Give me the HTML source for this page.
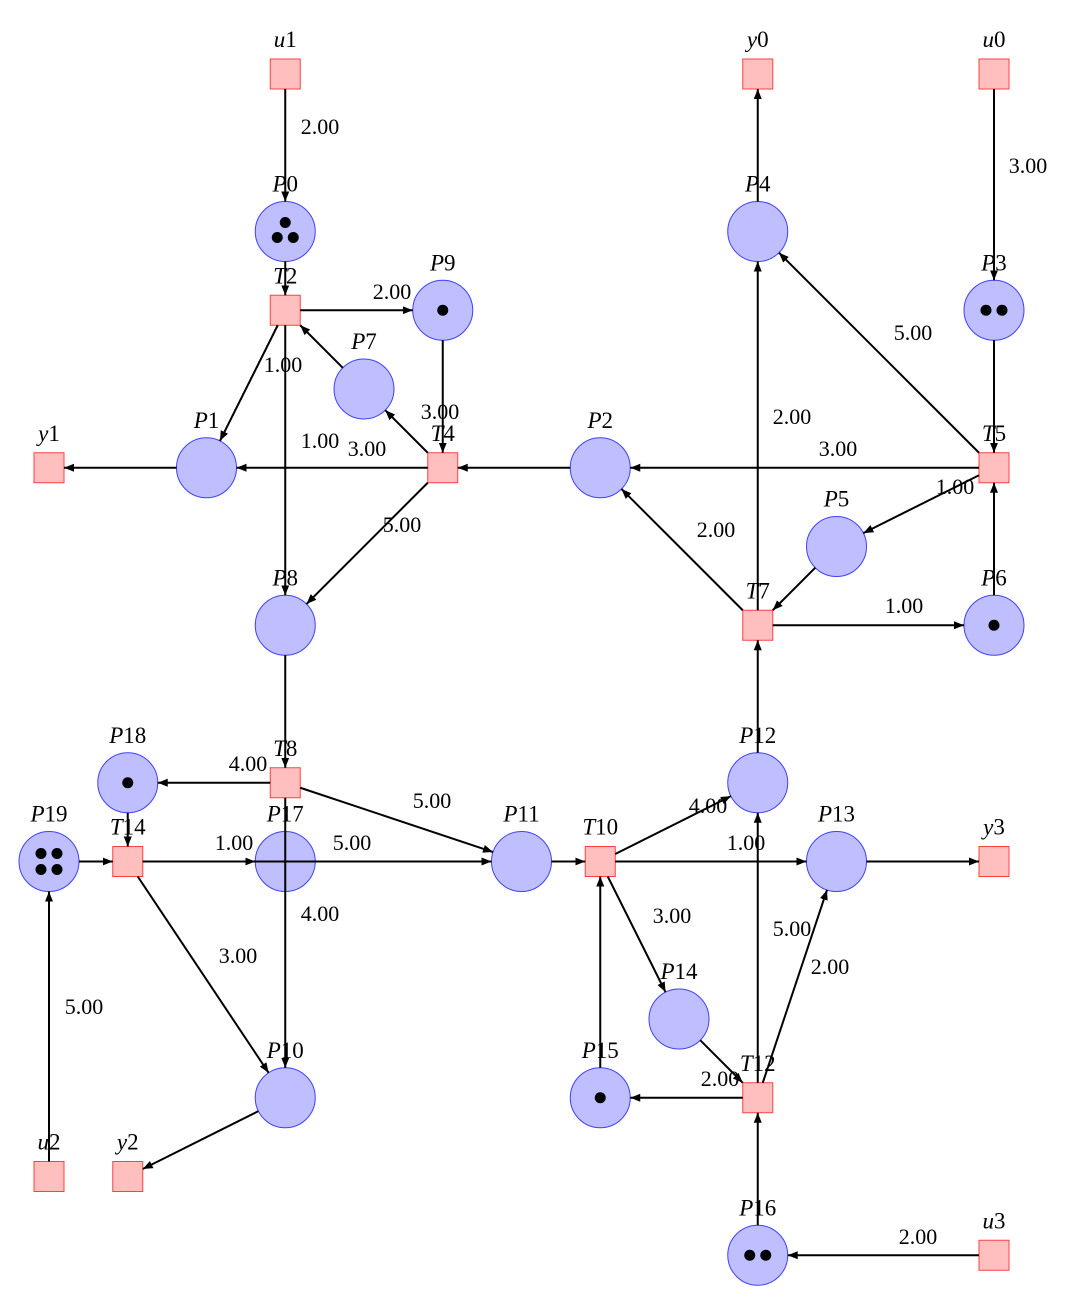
<!DOCTYPE html>
<html><head><meta charset="utf-8"><style>
html,body{margin:0;padding:0;background:#fff;}
svg{display:block;font-family:"Liberation Serif",serif;}
</style></head><body>
<svg id="net" width="1079" height="1302" viewBox="0 0 1079 1302" xmlns="http://www.w3.org/2000/svg">
<defs><marker id="ah" viewBox="0 0 10 10" refX="10" refY="5" markerWidth="10" markerHeight="10" markerUnits="userSpaceOnUse" orient="auto"><path d="M0,1 L10,5 L0,9 z" fill="#000"/></marker></defs>
<g id="nodes"></g><g id="edges"></g><g id="labels"></g>
</svg>
<script>
const nodeNames=["u1","P0","T2","P9","P7","P1","y1","T4","P2","P8","y0","u0","P4","P3","T5","P5","T7","P6","P18","T8","P19","T14","P17","P11","T10","P12","P13","y3","P14","P15","T12","P10","u2","y2","P16","u3"];
const nodeCol=[3,3,3,5,4,2,0,5,7,3,9,12,9,12,12,10,9,12,1,3,0,1,3,6,7,9,10,12,8,7,9,3,0,1,9,12];
const nodeRow=[0,2,3,3,4,5,5,5,5,7,0,0,2,3,5,6,7,7,9,9,10,10,10,10,10,9,10,10,12,13,13,13,14,14,15,15];
const tokens={P0:3,P9:1,P3:2,P6:1,P18:1,P19:4,P15:1,P16:2};
const edgeFrom=["u1","P0","T2","P9","T4","P7","T2","T2","T4","P1","T4","P2","T5","T5","u0","P3","T5","P6","P5","T7","T7","T7","P4","P12","P8","T8","T8","T8","P18","P19","T14","T14","T14","u2","P10","P11","T10","T10","T10","P13","P14","T12","T12","T12","P15","P16","u3"];
const edgeTo=["P0","T2","P9","T4","P7","T2","P1","P8","P1","y1","P8","T4","P2","P4","P3","T5","P5","T5","T7","P2","P4","P6","y0","T7","T8","P18","P11","P10","T14","T14","P17","P11","P10","P19","y2","T10","P12","P13","P14","y3","T12","P15","P12","P13","T10","T12","P16"];
const edgeW=["2.00","","2.00","3.00","","","1.00","1.00","3.00","","5.00","","3.00","5.00","3.00","","1.00","","","2.00","2.00","1.00","","","","4.00","5.00","4.00","","","1.00","5.00","3.00","5.00","","","4.00","1.00","3.00","","","2.00","5.00","2.00","","","2.00"];
const labelPos={0:[320,127],2:[392,292],3:[440,412],6:[283,365],7:[320,441],8:[367,449],10:[402,525],12:[838,449],13:[913,333],14:[1028,166],16:[955,487],19:[716,530],20:[792,417],21:[904,606],25:[248,764],26:[432,801],27:[320,914],30:[234,843],31:[352,843],32:[238,956],33:[84,1007],36:[708,806],37:[746,843],38:[672,916],41:[720,1079],42:[792,929],43:[830,967],46:[918,1237]};
const X=c=>49+78.75*c, Y=r=>74+78.75*r;
const NS="http://www.w3.org/2000/svg";
const gE=document.getElementById('edges'),gN=document.getElementById('nodes'),gL=document.getElementById('labels');
const pos={};nodeNames.forEach((n,i)=>pos[n]=[X(nodeCol[i]),Y(nodeRow[i])]);
const isPlace=n=>n[0]==='P';
function trim(n,dx,dy){const L=Math.hypot(dx,dy);if(isPlace(n))return 30/L;const m=Math.max(Math.abs(dx),Math.abs(dy))/L;return 15/(m*L)}
function mk(t,a){const e=document.createElementNS(NS,t);for(const k in a)e.setAttribute(k,a[k]);return e}
edgeFrom.forEach((f,i)=>{
 const t=edgeTo[i];const [x1,y1]=pos[f],[x2,y2]=pos[t];const dx=x2-x1,dy=y2-y1;
 const a=trim(f,dx,dy),b=trim(t,dx,dy);
 const l=mk('line',{x1:x1+dx*a,y1:y1+dy*a,x2:x2-dx*b,y2:y2-dy*b,stroke:'#000','stroke-width':2,'marker-end':'url(#ah)'});
 
 
 gE.appendChild(l);
 if(edgeW[i]){const p=labelPos[i]||[(x1+x2)/2+15,(y1+y2)/2];
  const tx=mk('text',{x:p[0],y:p[1]+7,'font-size':22,'text-anchor':'middle'});tx.textContent=edgeW[i];
  
  
  gL.appendChild(tx);}
});
const tokOff={1:[[0,0]],2:[[-8,0],[8,0]],3:[[0,-9],[-8,6],[8,6]],4:[[-8,-8],[8,-8],[-8,8],[8,8]]};
nodeNames.forEach(n=>{
 const [x,y]=pos[n];let el;
 if(isPlace(n)){el=mk('circle',{cx:x,cy:y,r:30,fill:'#bfbfff',stroke:'#4040ff','stroke-width':1});}
 else el=mk('rect',{x:x-15,y:y-15,width:30,height:30,fill:'#ffbfbf',stroke:'#ff4040','stroke-width':1});
 
 
 gN.appendChild(el);
 const k=tokens[n];if(k){tokOff[k].forEach(o=>{const d=mk('circle',{cx:x+o[0],cy:y+o[1],r:5.5,fill:'#000'});
  
  
  gN.appendChild(d);});}
 const ly=isPlace(n)?y-40:y-27;
 const tx=mk('text',{x:x,y:ly,'font-size':23,'text-anchor':'middle'});
 const t1=mk('tspan',{'font-style':'italic'});t1.textContent=n[0];
 const t2=mk('tspan',{});t2.textContent=n.slice(1);
 tx.appendChild(t1);tx.appendChild(t2);
 
 
 gL.appendChild(tx);
});
</script>
</body></html>
